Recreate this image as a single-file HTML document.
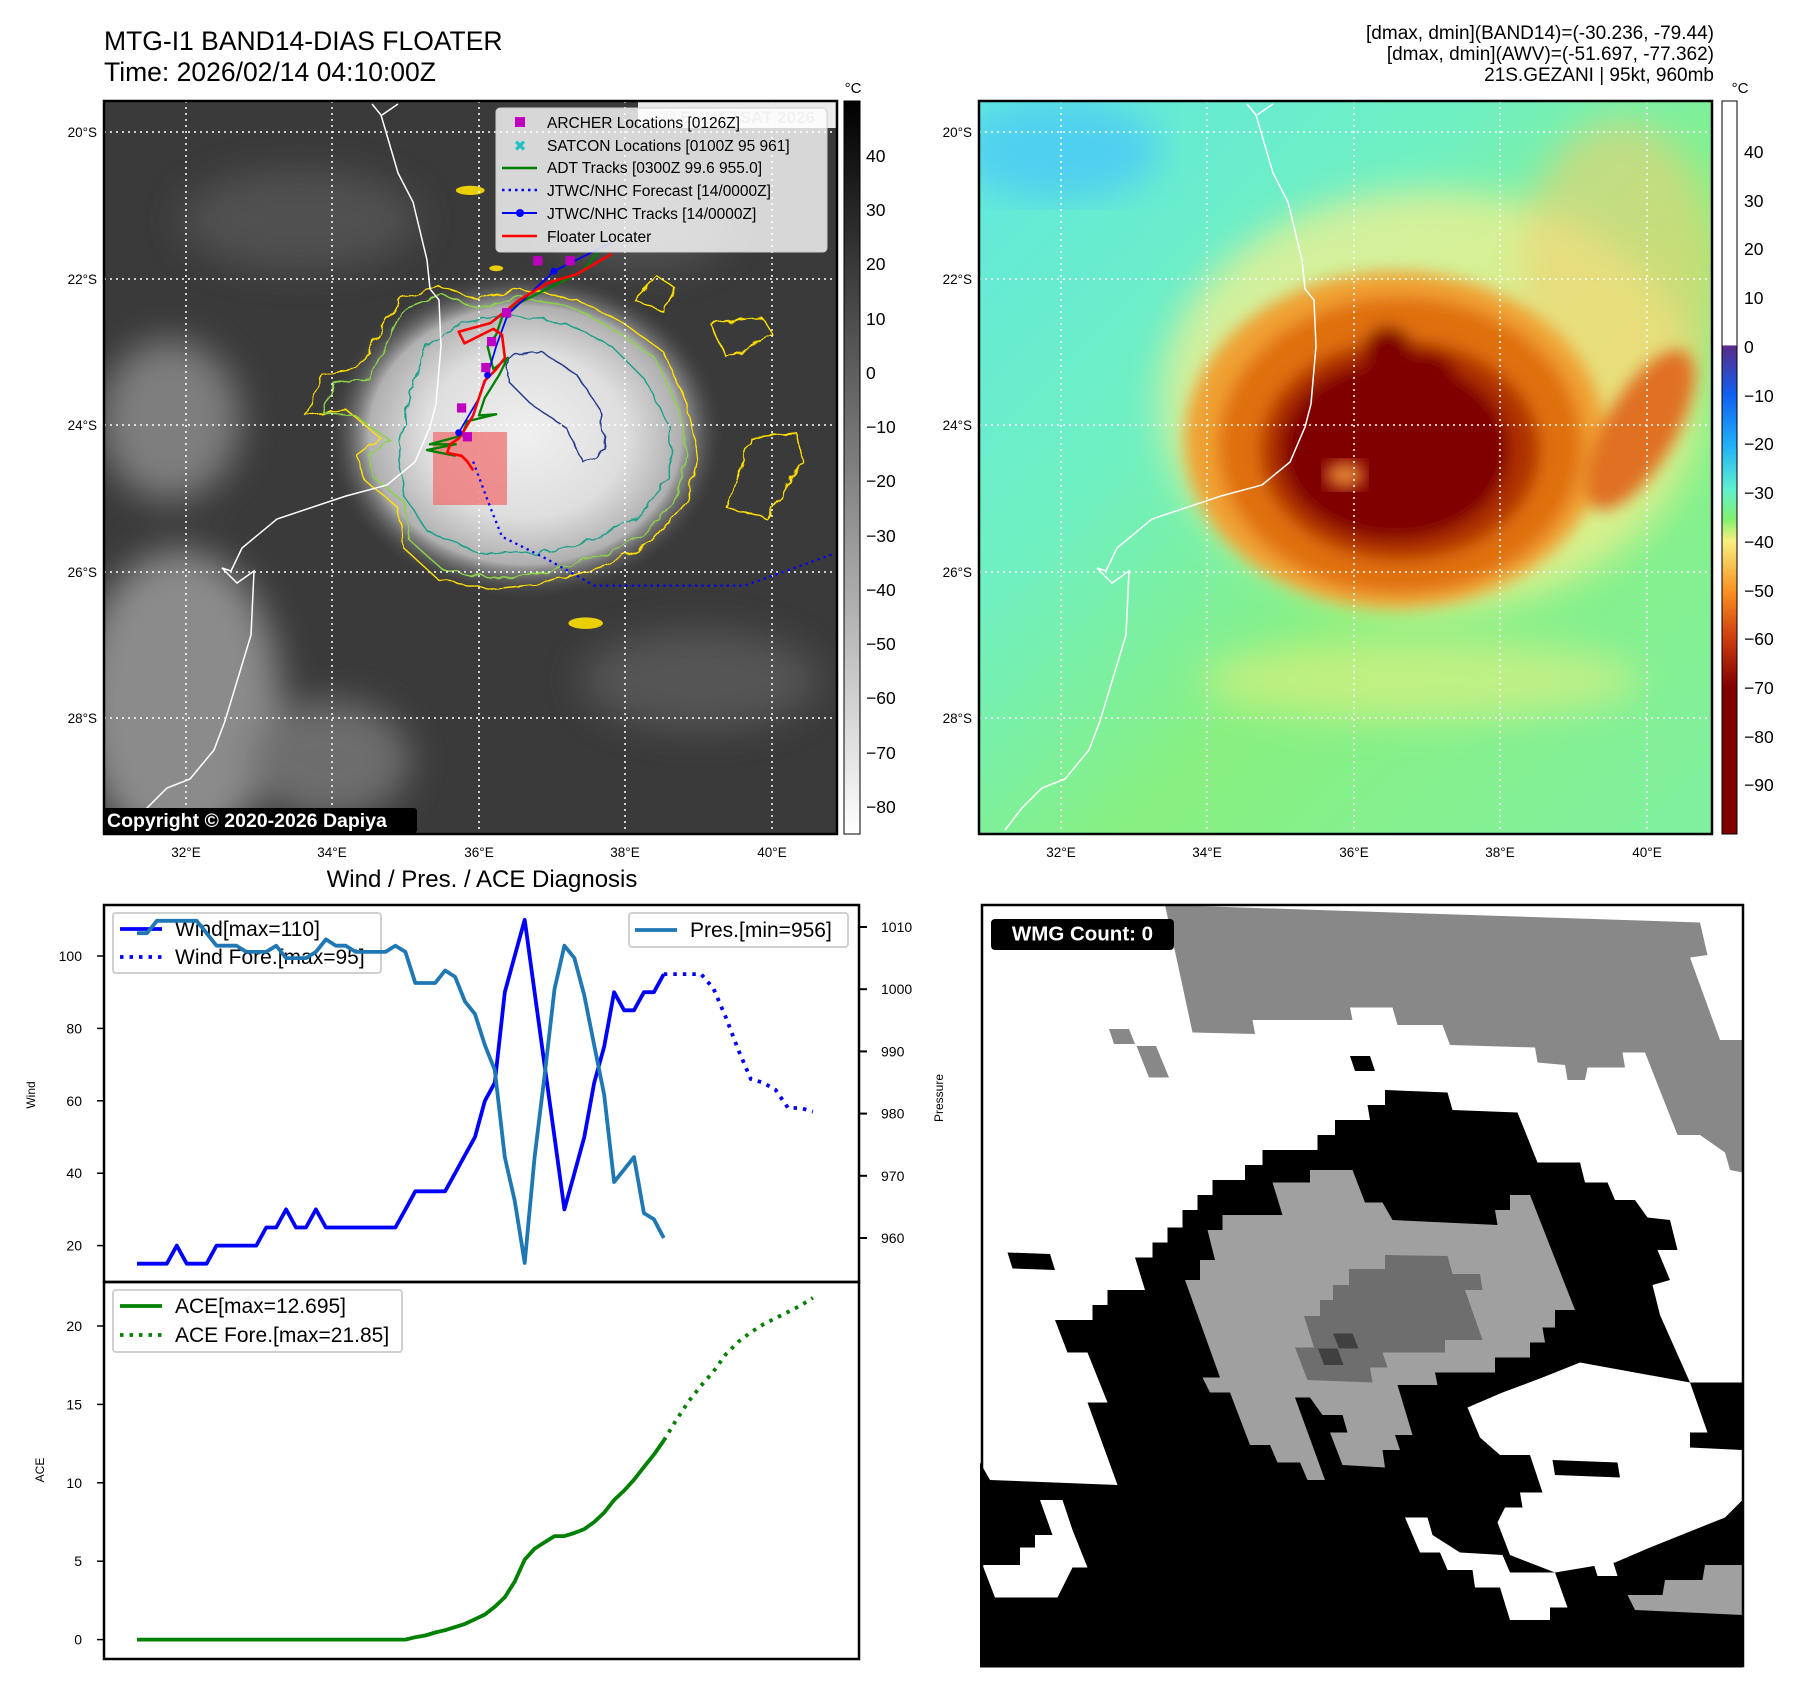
<!DOCTYPE html>
<html><head><meta charset="utf-8">
<style>
html,body{margin:0;padding:0;background:#fff;}
svg{display:block;font-family:"Liberation Sans","DejaVu Sans",sans-serif;}
</style></head>
<body>
<svg id="root" width="1797" height="1690" viewBox="0 0 1797 1690" xmlns="http://www.w3.org/2000/svg">
<defs>
  <linearGradient id="cbGray" x1="0" y1="0" x2="0" y2="1">
    <stop offset="0" stop-color="#000"/><stop offset="1" stop-color="#fff"/>
  </linearGradient>
  <linearGradient id="cbColor" x1="0" y1="0" x2="0" y2="1">
    <stop offset="0" stop-color="#fff"/>
    <stop offset="0.333" stop-color="#fff"/>
    <stop offset="0.334" stop-color="#5a2a8a"/>
    <stop offset="0.40" stop-color="#1060f0"/>
    <stop offset="0.47" stop-color="#20b0f8"/>
    <stop offset="0.53" stop-color="#60f0d0"/>
    <stop offset="0.57" stop-color="#80f070"/>
    <stop offset="0.60" stop-color="#f8f080"/>
    <stop offset="0.67" stop-color="#f89020"/>
    <stop offset="0.73" stop-color="#d04010"/>
    <stop offset="0.80" stop-color="#800000"/>
    <stop offset="1" stop-color="#800000"/>
  </linearGradient>
  <radialGradient id="stormGray" cx="0.5" cy="0.5" r="0.5">
    <stop offset="0" stop-color="#f0f0f0"/>
    <stop offset="0.5" stop-color="#dedede"/>
    <stop offset="0.78" stop-color="#b0b0b0"/>
    <stop offset="1" stop-color="#3c3c3c" stop-opacity="0"/>
  </radialGradient>
  <linearGradient id="bgColor" x1="0" y1="0" x2="1" y2="1">
    <stop offset="0" stop-color="#60e8e0"/>
    <stop offset="0.35" stop-color="#70f0c0"/>
    <stop offset="0.6" stop-color="#88f080"/>
    <stop offset="1" stop-color="#80f0a0"/>
  </linearGradient>
  <filter id="blur8"><feGaussianBlur stdDeviation="8"/></filter>
  <filter id="blur18"><feGaussianBlur stdDeviation="18"/></filter>
  <filter id="wobble"><feTurbulence type="fractalNoise" baseFrequency="0.04" numOctaves="2" seed="3"/><feDisplacementMap in="SourceGraphic" scale="14"/></filter>
  <clipPath id="clipL"><rect x="104" y="101" width="733" height="733"/></clipPath>
  <clipPath id="clipR"><rect x="979" y="101" width="733" height="733"/></clipPath>
</defs>

<!-- Titles -->
<text x="104" y="50" font-size="26.5">MTG-I1 BAND14-DIAS FLOATER</text>
<text x="104" y="81" font-size="26.5">Time: 2026/02/14 04:10:00Z</text>
<g font-size="19" text-anchor="end">
  <text x="1714" y="39">[dmax, dmin](BAND14)=(-30.236, -79.44)</text>
  <text x="1714" y="60">[dmax, dmin](AWV)=(-51.697, -77.362)</text>
  <text x="1714" y="81">21S.GEZANI | 95kt, 960mb</text>
</g>

<!-- LEFT MAP -->
<g clip-path="url(#clipL)">
  <rect x="104" y="101" width="733" height="733" fill="#3a3a3a"/>
  <g filter="url(#blur18)" opacity="0.85">
    <ellipse cx="170" cy="420" rx="70" ry="80" fill="#8a8a8a"/>
    <ellipse cx="180" cy="700" rx="100" ry="150" fill="#9a9a9a"/>
    <ellipse cx="330" cy="760" rx="80" ry="60" fill="#777"/>
    <ellipse cx="300" cy="220" rx="120" ry="50" fill="#555"/>
    <ellipse cx="700" cy="680" rx="120" ry="50" fill="#5a5a5a"/>
    <ellipse cx="640" cy="230" rx="90" ry="40" fill="#555"/>
  </g>
  <ellipse cx="525" cy="435" rx="200" ry="165" fill="url(#stormGray)"/>
  <g fill="none" stroke-width="2.5" filter="url(#wobble)" transform="scale(0.577)">
    <path d="M530,720 L560,650 L620,640 L690,520 L760,495 L830,520 L900,500 L1000,520 L1080,560 L1150,610 L1190,700 L1210,790 L1190,870 L1130,940 L1050,980 L950,1010 L850,1020 L760,1005 L700,950 L690,880 L630,830 L620,790 L660,760 L600,710 Z" stroke="#ffe000"/>
    <path d="M560,715 L580,665 L640,655 L700,535 L765,510 L830,535 L900,515 L1000,535 L1070,575 L1135,620 L1175,705 L1192,790 L1172,862 L1118,925 L1042,962 L948,992 L852,1002 L768,988 L712,938 L702,872 L645,825 L640,792 L675,762 L615,720 Z" stroke="#8cd24a"/>
    <path d="M740,600 L800,560 L880,545 L980,560 L1060,600 L1120,660 L1160,740 L1160,830 L1100,900 L1020,940 L920,960 L820,955 L740,920 L700,860 L690,780 L710,690 Z" stroke="#1fa08a"/>
    <path d="M880,620 L940,610 L1000,650 L1040,710 L1050,780 L1010,800 L980,740 L920,700 L880,660 Z" stroke="#283e8c"/>
    <path d="M1100,520 L1140,480 L1170,500 L1150,540 Z M1230,560 L1320,550 L1340,580 L1260,620 Z M1300,760 L1380,750 L1390,800 L1330,900 L1260,880 Z" stroke="#ffe000"/>
  </g>
  <g fill="#ffe000" opacity="0.9" transform="scale(0.577)">
    <ellipse cx="815" cy="330" rx="25" ry="8"/><ellipse cx="860" cy="465" rx="12" ry="5"/><ellipse cx="1015" cy="1080" rx="30" ry="10"/>
  </g>
  <g stroke="#fff" stroke-width="1.5" stroke-dasharray="2,4">
    <line x1="186" y1="101" x2="186" y2="834"/><line x1="332" y1="101" x2="332" y2="834"/><line x1="479" y1="101" x2="479" y2="834"/><line x1="625" y1="101" x2="625" y2="834"/><line x1="772" y1="101" x2="772" y2="834"/>
    <line x1="104" y1="132" x2="837" y2="132"/><line x1="104" y1="279" x2="837" y2="279"/><line x1="104" y1="425" x2="837" y2="425"/><line x1="104" y1="572" x2="837" y2="572"/><line x1="104" y1="718" x2="837" y2="718"/>
  </g>
  <path id="coast" d="M372,104 L381,115 L398,173 L413,202 L427,260 L430,289 L439,300 L441,346 L436,404 L430,427 L415,462 L387,485 L346,496 L277,519 L242,548 L231,571 L222,568 L237,583 L254,571 L251,635 L225,721 L214,750 L190,779 L167,788 L147,808 L130,830 M398,104 L382,115" fill="none" stroke="#fff" stroke-width="1.5"/>
  <rect x="433" y="432" width="74" height="73" fill="#f07070" fill-opacity="0.75"/>
  <g transform="scale(0.577)" fill="none" stroke-linejoin="round">
    <path d="M820,800 L850,880 L870,930 L950,970 L1030,1015 L1290,1015 L1445,960" stroke="#0000ff" stroke-width="4" stroke-dasharray="4,7"/>
    <path d="M1050,420 L1010,470 L950,500 L900,525 L870,550 L860,580 L845,600 L855,640 L880,620 L865,650 L840,690 L830,720 L860,718 L810,730 L800,755 L745,770 L790,770 L740,780 L790,790" stroke="#008000" stroke-width="4"/>
    <path d="M1060,420 L960,470 L880,545 L860,600 L845,650 L830,690 L795,750" stroke="#0000ff" stroke-width="3"/>
    <path d="M1060,440 L1000,475 L950,490 L900,520 L850,560 L795,575 L805,595 L855,570 L870,580 L875,620 L860,640 L840,660 L830,690 L820,720 L805,745 L795,760 L780,770 L775,785 L800,790 L810,800 L820,815" stroke="#ff0000" stroke-width="4.5"/>
    <g fill="#0000ff" stroke="none"><circle cx="960" cy="470" r="6"/><circle cx="880" cy="545" r="6"/><circle cx="845" cy="650" r="6"/><circle cx="795" cy="750" r="6"/></g>
    <g fill="#c000c0" stroke="none">
      <rect x="924" y="444" width="16" height="16"/><rect x="980" y="444" width="16" height="16"/><rect x="870" y="534" width="16" height="16"/><rect x="844" y="584" width="16" height="16"/><rect x="834" y="629" width="16" height="16"/><rect x="792" y="699" width="16" height="16"/><rect x="802" y="749" width="16" height="16"/>
    </g>
  </g>
  <rect x="638" y="101" width="199" height="27" fill="#fff" opacity="0.9"/>
  <text x="815" y="123" font-size="17" font-weight="bold" fill="#bbb" text-anchor="end">© EUMETSAT 2026</text>
  <g>
    <rect x="496" y="108" width="331" height="144" rx="4" fill="#fff" fill-opacity="0.8" stroke="#ccc"/>
    <g font-size="15.5" fill="#000">
      <rect x="515" y="117" width="10" height="10" fill="#c000c0"/><text x="547" y="128">ARCHER Locations [0126Z]</text>
      <text x="520" y="151" fill="#20c0c0" font-size="15" font-weight="bold" text-anchor="middle">✖</text><text x="547" y="151">SATCON Locations [0100Z 95 961]</text>
      <line x1="502" y1="168" x2="537" y2="168" stroke="#008000" stroke-width="2.5"/><text x="547" y="173">ADT Tracks [0300Z 99.6 955.0]</text>
      <line x1="502" y1="190" x2="537" y2="190" stroke="#0000ff" stroke-width="2.5" stroke-dasharray="2.5,4"/><text x="547" y="196">JTWC/NHC Forecast [14/0000Z]</text>
      <line x1="502" y1="213" x2="537" y2="213" stroke="#0000ff" stroke-width="2"/><circle cx="520" cy="213" r="4" fill="#0000ff"/><text x="547" y="219">JTWC/NHC Tracks [14/0000Z]</text>
      <line x1="502" y1="236" x2="537" y2="236" stroke="#ff0000" stroke-width="2.5"/><text x="547" y="242">Floater Locater</text>
    </g>
  </g>
  <g>
    <rect x="103" y="808" width="314" height="25" rx="3" fill="#000"/>
    <text x="107" y="827" font-size="19.5" font-weight="bold" fill="#fff">Copyright © 2020-2026 Dapiya</text>
  </g>
</g>
<rect x="104" y="101" width="733" height="733" fill="none" stroke="#000" stroke-width="2.5"/>
<g font-size="13.5">
  <g text-anchor="end"><text x="97" y="137">20°S</text><text x="97" y="284">22°S</text><text x="97" y="430">24°S</text><text x="97" y="577">26°S</text><text x="97" y="723">28°S</text></g>
  <g text-anchor="middle"><text x="186" y="857">32°E</text><text x="332" y="857">34°E</text><text x="479" y="857">36°E</text><text x="625" y="857">38°E</text><text x="772" y="857">40°E</text></g>
</g>
<g>
  <rect x="844" y="101" width="16" height="733" fill="url(#cbGray)" stroke="#000" stroke-width="1"/>
  <text x="853" y="93" font-size="15" text-anchor="middle">°C</text>
  <g font-size="17.5">
    <text x="866" y="162">40</text><text x="866" y="216">30</text><text x="866" y="270">20</text><text x="866" y="325">10</text><text x="866" y="379">0</text><text x="866" y="433">−10</text><text x="866" y="487">−20</text><text x="866" y="542">−30</text><text x="866" y="596">−40</text><text x="866" y="650">−50</text><text x="866" y="704">−60</text><text x="866" y="759">−70</text><text x="866" y="813">−80</text>
  </g>
</g>

<!-- RIGHT MAP -->
<g clip-path="url(#clipR)">
  <rect x="979" y="101" width="733" height="733" fill="url(#bgColor)"/>
  <ellipse cx="1060" cy="150" rx="100" ry="50" fill="#50d0f0" filter="url(#blur18)"/>
  <g filter="url(#blur18)">
    <ellipse cx="1430" cy="400" rx="270" ry="210" fill="#f4f090" opacity="0.75"/>
    <ellipse cx="1620" cy="280" rx="100" ry="160" fill="#f0d070" opacity="0.6"/>
    <ellipse cx="1420" cy="680" rx="220" ry="40" fill="#f8f080" opacity="0.5"/>
  </g>
  <g filter="url(#blur8)">
    <ellipse cx="1395" cy="440" rx="210" ry="168" fill="#f0a030"/>
    <ellipse cx="1400" cy="445" rx="182" ry="148" fill="#e07010"/>
    <ellipse cx="1640" cy="430" rx="35" ry="90" fill="#e07020" transform="rotate(30 1640 430)"/>
    <ellipse cx="1400" cy="450" rx="140" ry="110" fill="#b03000"/>
    <ellipse cx="1395" cy="450" rx="115" ry="90" fill="#800000"/>
    <circle cx="1388" cy="350" r="24" fill="#800000"/>
    <circle cx="1425" cy="385" r="34" fill="#800000"/>
    <circle cx="1455" cy="430" r="40" fill="#800000"/>
  </g>
  <ellipse cx="1345" cy="475" rx="20" ry="14" fill="#e08030" filter="url(#blur8)"/>
  <g stroke="#fff" stroke-width="1.5" stroke-dasharray="2,4">
    <line x1="1061" y1="101" x2="1061" y2="834"/><line x1="1207" y1="101" x2="1207" y2="834"/><line x1="1354" y1="101" x2="1354" y2="834"/><line x1="1500" y1="101" x2="1500" y2="834"/><line x1="1647" y1="101" x2="1647" y2="834"/>
    <line x1="979" y1="132" x2="1712" y2="132"/><line x1="979" y1="279" x2="1712" y2="279"/><line x1="979" y1="425" x2="1712" y2="425"/><line x1="979" y1="572" x2="1712" y2="572"/><line x1="979" y1="718" x2="1712" y2="718"/>
  </g>
  <use href="#coast" transform="translate(875,0)"/>
</g>
<rect x="979" y="101" width="733" height="733" fill="none" stroke="#000" stroke-width="2.5"/>
<g font-size="13.5">
  <g text-anchor="end"><text x="972" y="137">20°S</text><text x="972" y="284">22°S</text><text x="972" y="430">24°S</text><text x="972" y="577">26°S</text><text x="972" y="723">28°S</text></g>
  <g text-anchor="middle"><text x="1061" y="857">32°E</text><text x="1207" y="857">34°E</text><text x="1354" y="857">36°E</text><text x="1500" y="857">38°E</text><text x="1647" y="857">40°E</text></g>
</g>
<g>
  <rect x="1722" y="101" width="15" height="733" fill="url(#cbColor)" stroke="#000" stroke-width="1"/>
  <text x="1740" y="93" font-size="15" text-anchor="middle">°C</text>
  <g font-size="17.5">
    <text x="1744" y="158">40</text><text x="1744" y="207">30</text><text x="1744" y="255">20</text><text x="1744" y="304">10</text><text x="1744" y="353">0</text><text x="1744" y="402">−10</text><text x="1744" y="450">−20</text><text x="1744" y="499">−30</text><text x="1744" y="548">−40</text><text x="1744" y="597">−50</text><text x="1744" y="645">−60</text><text x="1744" y="694">−70</text><text x="1744" y="743">−80</text><text x="1744" y="791">−90</text>
  </g>
</g>

<!-- LOWER LEFT CHART -->
<text x="482" y="887" font-size="24" text-anchor="middle">Wind / Pres. / ACE Diagnosis</text>
<g id="chart"></g>

<!-- WMG panel -->
<svg x="980" y="900" width="770" height="770" viewBox="0 0 1540 1540">
  <rect x="4" y="10" width="1522" height="1522" fill="#fff"/>
  <polygon fill="#888" points="370,10 1440,45 1455,110 1420,115 1480,280 1525,280 1525,545 1500,540 1490,505 1440,470 1395,470 1330,305 1285,305 1290,335 1215,335 1210,360 1175,360 1170,330 1115,325 1110,295 940,290 925,250 835,250 825,215 740,215 745,240 545,240 550,268 425,265"/>
  <polygon fill="#888" points="258,258 298,258 310,288 268,288"/>
  <polygon fill="#888" points="313,292 352,292 378,355 338,355"/>
  <polygon fill="#000" points="0,1125 20,1160 275,1170 215,1005 255,1005 215,905 175,905 150,840 225,840 225,810 255,810 255,780 330,780 310,715 345,715 345,685 375,685 375,655 405,655 405,620 435,620 435,590 465,590 465,560 530,560 530,530 565,530 565,500 675,500 675,470 710,470 710,440 780,440 775,410 810,410 810,380 935,385 945,420 1075,425 1115,525 1200,525 1210,565 1255,565 1270,600 1310,600 1335,635 1380,640 1395,700 1355,700 1380,760 1345,770 1360,830 1420,965 1525,965 1525,1535 0,1535"/>
  <polygon fill="#fff" points="975,1015 1045,985 1125,955 1200,925 1420,965 1455,1065 1420,1065 1420,1095 1525,1100 1525,1200 1490,1235 1415,1265 1340,1295 1270,1325 1150,1345 1060,1310 1035,1245 1050,1215 1085,1215 1080,1185 1125,1185 1100,1110 1040,1110 1000,1075"/>
  <polygon fill="#000" points="1145,1120 1275,1125 1280,1155 1150,1150"/>
  <polygon fill="#fff" points="5,1330 80,1330 80,1295 110,1295 110,1270 145,1270 120,1200 165,1200 185,1260 215,1335 185,1335 155,1395 30,1395"/>
  <polygon fill="#fff" points="850,1235 895,1235 905,1270 960,1305 1045,1310 1060,1345 1150,1345 1175,1415 1140,1415 1140,1440 1060,1440 1040,1375 990,1375 985,1340 935,1340 920,1305 880,1305"/>
  <polygon fill="#fff" points="1225,1320 1265,1320 1275,1352 1235,1352"/>
  <polygon fill="#a0a0a0" points="1295,1390 1365,1390 1370,1360 1445,1360 1450,1330 1525,1330 1525,1430 1310,1420"/>
  <polygon fill="#000" points="740,312 780,312 790,342 750,342"/>
  <polygon fill="#000" points="55,705 140,708 150,740 65,737"/>
  <polygon fill="#a0a0a0" points="585,565 660,565 660,540 745,540 770,605 805,605 825,640 1035,650 1030,620 1060,620 1060,590 1100,590 1190,820 1150,820 1150,855 1125,855 1130,885 1100,885 1100,915 1030,915 1030,945 910,945 915,970 835,970 865,1070 830,1070 840,1100 805,1100 810,1135 725,1130 700,1065 735,1065 725,1030 685,1030 660,995 630,995 690,1160 655,1160 640,1125 595,1125 580,1090 540,1090 500,985 460,985 445,955 480,955 410,760 440,760 440,720 470,720 455,660 485,660 485,630 605,630"/>
  <polygon fill="#6e6e6e" points="810,710 935,712 945,748 1000,748 1005,780 970,780 1005,880 930,880 930,905 805,905 815,935 780,935 785,965 655,960 630,895 668,895 648,832 680,832 680,800 706,800 706,770 738,770 738,738 810,738"/>
  <polygon fill="#404040" points="706,867 745,867 757,897 718,897"/>
  <polygon fill="#404040" points="676,897 715,897 727,930 688,930"/>
  <rect x="4" y="10" width="1522" height="1522" fill="none" stroke="#000" stroke-width="5"/>
  <rect x="22" y="38" width="366" height="62" rx="8" fill="#000"/>
  <text x="205" y="81" font-size="41" font-weight="bold" fill="#fff" text-anchor="middle">WMG Count: 0</text>
</svg>
</svg>

<script>
// ---- diagnosis chart data ----
const windObs = [15,15,15,15,20,15,15,15,20,20,20,20,20,25,25,30,25,25,30,25,25,25,25,25,25,25,25,30,35,35,35,35,40,45,50,60,65,90,100,110,90,70,50,30,40,50,65,75,90,85,85,90,90,95];
const windFore = [95,95,95,95,91,83,74,66,65,63,58,58,57];
const presObs = [1009,1009,1011,1011,1011,1011,1011,1009,1007,1007,1007,1006,1006,1006,1007,1005,1005,1005,1006,1008,1007,1007,1006,1006,1006,1006,1007,1006,1001,1001,1001,1003,1002,998,996,991,987,973,966,956,973,986,1000,1007,1005,999,991,983,969,971,973,964,963,960];
const aceObs = [0,0,0,0,0,0,0,0,0,0,0,0,0,0,0,0,0,0,0,0,0,0,0,0,0,0,0,0,0.15,0.26,0.45,0.6,0.8,1.0,1.3,1.6,2.1,2.7,3.7,5.1,5.8,6.2,6.6,6.6,6.8,7.05,7.5,8.1,8.9,9.5,10.2,11.0,11.8,12.7];
const aceFore = [12.7,14.0,15.2,16.2,17.1,18.2,19.0,19.6,20.1,20.5,20.9,21.3,21.8];
const foreStartIndex = 53;
const foreStepIndex = 1.25;
const windTicks = [20,40,60,80,100];
const presTicks = [960,970,980,990,1000,1010];
const aceTicks = [0,5,10,15,20];

const NS = "http://www.w3.org/2000/svg";
const chart = document.getElementById('chart');
const L = 104, R = 859, T1 = 905, B1 = 1282, B2 = 1659;
const xIdx = i => 137 + i * 9.94;
const yWind = v => 956 - (v - 100) * 3.62;
const yPres = p => 927 - (p - 1010) * 6.22;
const yAce = a => 1639.6 - a * 15.68;
function el(tag, attrs, parent) {
  const e = document.createElementNS(NS, tag);
  for (const k in attrs) e.setAttribute(k, attrs[k]);
  (parent || chart).appendChild(e);
  return e;
}
function poly(pts, stroke, w, dash, name) {
  const e = el('polyline', {points: pts.map(p => p[0].toFixed(1) + ',' + p[1].toFixed(1)).join(' '), fill: 'none', stroke: stroke, 'stroke-width': w, 'stroke-linejoin': 'round'});
  if (dash) e.setAttribute('stroke-dasharray', dash);
  
  
  return e;
}
const f1 = el('rect', {x: L, y: T1, width: R - L, height: B1 - T1, fill: 'none', stroke: '#000', 'stroke-width': 2.5});


const f2 = el('rect', {x: L, y: B1, width: R - L, height: B2 - B1, fill: 'none', stroke: '#000', 'stroke-width': 2.5});


windTicks.forEach(t => {
  el('line', {x1: L - 7, x2: L, y1: yWind(t), y2: yWind(t), stroke: '#000', 'stroke-width': 1.5});
  const tx = el('text', {x: L - 22, y: yWind(t) + 5, 'font-size': 14, 'text-anchor': 'end'});
  tx.textContent = t;
  
  
});
presTicks.forEach(t => {
  el('line', {x1: R, x2: R + 8, y1: yPres(t), y2: yPres(t), stroke: '#000', 'stroke-width': 2});
  const tx = el('text', {x: R + 22, y: yPres(t) + 5, 'font-size': 14});
  tx.textContent = t;
  
  
});
aceTicks.forEach(t => {
  el('line', {x1: L - 7, x2: L, y1: yAce(t), y2: yAce(t), stroke: '#000', 'stroke-width': 1.5});
  const tx = el('text', {x: L - 22, y: yAce(t) + 5, 'font-size': 14, 'text-anchor': 'end'});
  tx.textContent = t;
  
  
});
const yl1 = el('text', {x: 0, y: 0, 'font-size': 12, 'text-anchor': 'middle', transform: 'translate(35,1095) rotate(-90)'});
yl1.textContent = 'Wind';


const yl2 = el('text', {x: 0, y: 0, 'font-size': 12, 'text-anchor': 'middle', transform: 'translate(943,1098) rotate(-90)'});
yl2.textContent = 'Pressure';


const yl3 = el('text', {x: 0, y: 0, 'font-size': 12, 'text-anchor': 'middle', transform: 'translate(44,1470) rotate(-90)'});
yl3.textContent = 'ACE';



poly(windObs.map((v, i) => [xIdx(i), yWind(v)]), '#0000ff', 3.8, null, 'wind-line');
poly(windFore.map((v, i) => [xIdx(foreStartIndex + i * foreStepIndex), yWind(v)]), '#0000ff', 3.8, '3.5,6', 'wind-forecast-line');
const lg1 = el('g', {});


el('rect', {x: 113, y: 913, width: 268, height: 60, rx: 3, fill: '#fff', 'fill-opacity': 0.8, stroke: '#d0d0d0', 'stroke-width': 2}, lg1);
el('line', {x1: 120, x2: 162, y1: 929, y2: 929, stroke: '#0000ff', 'stroke-width': 3.8}, lg1);
el('line', {x1: 120, x2: 162, y1: 957, y2: 957, stroke: '#0000ff', 'stroke-width': 3.8, 'stroke-dasharray': '3.5,6'}, lg1);
const lt1 = el('text', {x: 175, y: 936, 'font-size': 21}, lg1); lt1.textContent = 'Wind[max=110]';
const lt2 = el('text', {x: 175, y: 964, 'font-size': 21}, lg1); lt2.textContent = 'Wind Fore.[max=95]';
poly(presObs.map((v, i) => [xIdx(i), yPres(v)]), '#1f77b4', 3.8, null, 'pressure-line');
const lg2 = el('g', {});


el('rect', {x: 629, y: 913, width: 219, height: 34, rx: 3, fill: '#fff', 'fill-opacity': 0.8, stroke: '#d0d0d0', 'stroke-width': 2}, lg2);
el('line', {x1: 635, x2: 677, y1: 930, y2: 930, stroke: '#1f77b4', 'stroke-width': 3.8}, lg2);
const lt3 = el('text', {x: 690, y: 937, 'font-size': 21}, lg2); lt3.textContent = 'Pres.[min=956]';

poly(aceObs.map((v, i) => [xIdx(i), yAce(v)]), '#008000', 3.8, null, 'ace-line');
poly(aceFore.map((v, i) => [xIdx(foreStartIndex + i * foreStepIndex), yAce(v)]), '#008000', 3.8, '3.5,6', 'ace-forecast-line');
const lg3 = el('g', {});


el('rect', {x: 113, y: 1290, width: 289, height: 62, rx: 3, fill: '#fff', 'fill-opacity': 0.8, stroke: '#d0d0d0', 'stroke-width': 2}, lg3);
el('line', {x1: 120, x2: 162, y1: 1306, y2: 1306, stroke: '#008000', 'stroke-width': 3.8}, lg3);
el('line', {x1: 120, x2: 162, y1: 1335, y2: 1335, stroke: '#008000', 'stroke-width': 3.8, 'stroke-dasharray': '3.5,6'}, lg3);
const lt4 = el('text', {x: 175, y: 1313, 'font-size': 21}, lg3); lt4.textContent = 'ACE[max=12.695]';
const lt5 = el('text', {x: 175, y: 1342, 'font-size': 21}, lg3); lt5.textContent = 'ACE Fore.[max=21.85]';
</script>
</body></html>
